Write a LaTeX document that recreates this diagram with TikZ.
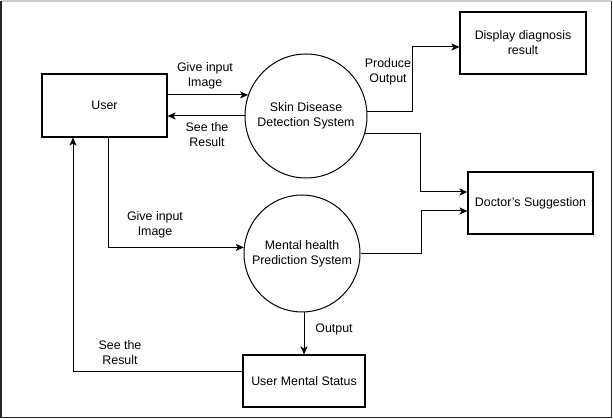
\documentclass[tikz,border=0pt]{standalone}
\usepackage{fontspec}
\setmainfont{Liberation Sans}
\usetikzlibrary{shapes.geometric,arrows.meta,calc}
\begin{document}
\begin{tikzpicture}[x=1pt,y=-1pt,
  font=\fontsize{12.4}{15}\selectfont,
  box/.style={draw,line width=1.1pt,rectangle,align=center,inner sep=0pt},
  proc/.style={draw,line width=1pt,ellipse,inner sep=0pt},
  arr/.style={line width=1pt,-{Stealth[length=8pt,width=7pt,inset=2pt]}},
  lbl/.style={align=center,inner sep=0pt}]
\useasboundingbox (0,0) rectangle (613,419);
\fill[white] (0,0) rectangle (613,419);
% outer frame
\draw[line width=1.2pt,black!20] (1,1) -- (611,1);
\draw[line width=1.8pt,black!85] (1,1) -- (1,417.5) -- (611.5,417.5) -- (611.5,1);
% nodes
\node[box,minimum width=125pt,minimum height=63pt] (user) at (104.5,105.5) {User};
\node[proc,minimum width=122pt,minimum height=124pt] (skin) at (306,116) {};
\node[lbl] (skint) at (skin.center) {Skin Disease\\Detection System};
\node[box,minimum width=126pt,minimum height=62pt] (disp) at (523,43) {Display diagnosis\\result};
\node[box,minimum width=125pt,minimum height=62pt] (doc) at (530.5,203) {Doctor's Suggestion};
\node[proc,minimum width=116pt,minimum height=117pt] (ment) at (302,253.5) {};
\node[lbl] (mentt) at (ment.center) {Mental health\\Prediction System};
\node[box,minimum width=122pt,minimum height=52pt] (stat) at (304,381) {User Mental Status};
% bend coordinates
\coordinate (b1) at (412,47);
\coordinate (b2) at (420,192);
\coordinate (b3) at (108,247);
\coordinate (b4) at (421,211);
\coordinate (b5) at (73,372);
% connectors
\draw[arr] (user.east |- skin.160) -- (skin.160);
\draw[arr] (skin.west) -- (user.east |- skin.west);
\draw[arr] (skin.4) -| (b1) -- (disp.west |- b1);
\draw[arr] (skin.-17) -| (b2) -- (doc.west |- b2);
\draw[arr] (user.south -| b3) |- (ment.174);
\draw[arr] (ment.east) -| (b4) -- (doc.west |- b4);
\draw[arr] (ment.south -| stat.north) -- (stat.north);
\draw[arr] (stat.west |- b5) -| (user.south -| b5);
% labels
\node[lbl] (l1) at (205,76) {Give input\\Image};
\node[lbl] (l2) at (207,134.5) {See the\\Result};
\node[lbl] (l3) at (388,72) {Produce\\Output};
\node[lbl] (l4) at (155,225) {Give input\\Image};
\node[lbl] (l5) at (334,329) {Output};
\node[lbl] (l6) at (120,353) {See the\\Result};
\end{tikzpicture}
\end{document}
